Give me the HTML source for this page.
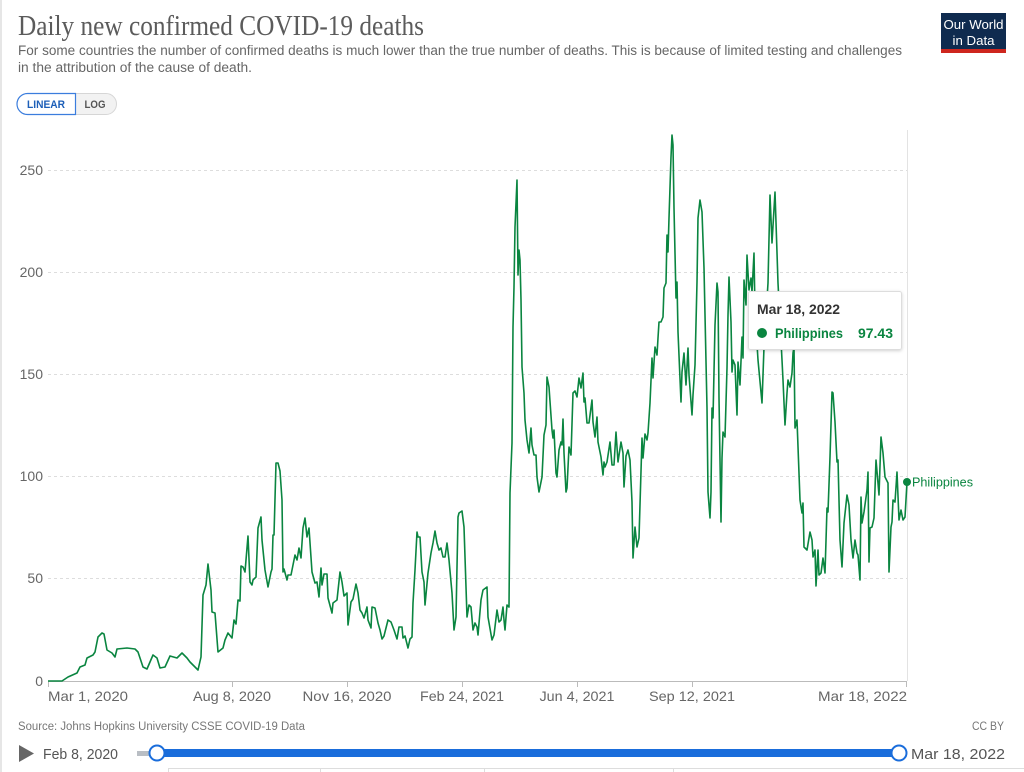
<!DOCTYPE html>
<html>
<head>
<meta charset="utf-8">
<style>
  html, body { margin: 0; padding: 0; background: #ffffff; }
  body { width: 1024px; height: 772px; overflow: hidden; }
  svg { display: block; }
  .sans { font-family: "Liberation Sans", "DejaVu Sans", sans-serif; }
  .serif { font-family: "Liberation Serif", "DejaVu Serif", serif; }
</style>
</head>
<body>
<svg width="1024" height="772" viewBox="0 0 1024 772" xmlns="http://www.w3.org/2000/svg">
  <defs>
    <filter id="sh" x="-10%" y="-20%" width="120%" height="150%">
      <feDropShadow dx="0" dy="1" stdDeviation="1.5" flood-color="#000" flood-opacity="0.18"/>
    </filter>
  </defs>
  <rect x="0" y="0" width="1024" height="772" fill="#ffffff"/>
  <rect x="0" y="0" width="2" height="772" fill="#e6e6e6"/>

  <!-- Title -->
  <text class="serif" x="18" y="35" font-size="28" fill="#5b5b5b" textLength="406" lengthAdjust="spacingAndGlyphs">Daily new confirmed COVID-19 deaths</text>
  <text class="sans" x="18" y="55" font-size="13.5" fill="#666" textLength="884" lengthAdjust="spacingAndGlyphs">For some countries the number of confirmed deaths is much lower than the true number of deaths. This is because of limited testing and challenges</text>
  <text class="sans" x="18" y="72" font-size="13.5" fill="#666" textLength="234" lengthAdjust="spacingAndGlyphs">in the attribution of the cause of death.</text>

  <!-- Logo -->
  <rect x="941" y="13" width="65" height="37" fill="#0f2b4f"/>
  <rect x="941" y="49" width="65" height="4" fill="#ce261e"/>
  <text class="sans" x="973.5" y="29" font-size="12.5" fill="#fff" text-anchor="middle" textLength="60" lengthAdjust="spacingAndGlyphs">Our World</text>
  <text class="sans" x="973.5" y="45" font-size="12.5" fill="#fff" text-anchor="middle" textLength="42" lengthAdjust="spacingAndGlyphs">in Data</text>

  <!-- LINEAR / LOG -->
  <path d="M75.5,93.5 H106 A10.5,10.5 0 0 1 106,114.5 H75.5 Z" fill="#f2f2f2" stroke="#d6d6d6" stroke-width="1"/>
  <path d="M75.5,93.5 H27.5 A10.5,10.5 0 0 0 27.5,114.5 H75.5 Z" fill="#ffffff" stroke="#3b7ddd" stroke-width="1.2"/>
  <text class="sans" x="46" y="108" font-size="11" fill="#1d5fb8" text-anchor="middle" font-weight="bold" textLength="38" lengthAdjust="spacingAndGlyphs">LINEAR</text>
  <text class="sans" x="95" y="108" font-size="11" fill="#555" text-anchor="middle" font-weight="bold" textLength="21" lengthAdjust="spacingAndGlyphs">LOG</text>

  <!-- Gridlines -->
  <g stroke="#dddddd" stroke-width="1" stroke-dasharray="3,3">
    <line x1="48" y1="170.5" x2="907" y2="170.5"/>
    <line x1="48" y1="272.5" x2="907" y2="272.5"/>
    <line x1="48" y1="374.5" x2="907" y2="374.5"/>
    <line x1="48" y1="476.5" x2="907" y2="476.5"/>
    <line x1="48" y1="578.5" x2="907" y2="578.5"/>
  </g>
  <line x1="907.5" y1="130" x2="907.5" y2="681" stroke="#e3e3e3" stroke-width="1"/>

  <!-- Y labels -->
  <g class="sans" font-size="14" fill="#666" text-anchor="end">
    <text x="43" y="175">250</text>
    <text x="43" y="277">200</text>
    <text x="43" y="379">150</text>
    <text x="43" y="481">100</text>
    <text x="43" y="583">50</text>
    <text x="43" y="686">0</text>
  </g>

  <!-- X axis -->
  <line x1="48" y1="681.5" x2="907" y2="681.5" stroke="#bbbbbb" stroke-width="1"/>
  <g stroke="#bbbbbb" stroke-width="1">
    <line x1="48.5" y1="681" x2="48.5" y2="687"/>
    <line x1="232.5" y1="681" x2="232.5" y2="687"/>
    <line x1="347.5" y1="681" x2="347.5" y2="687"/>
    <line x1="462.5" y1="681" x2="462.5" y2="687"/>
    <line x1="577.5" y1="681" x2="577.5" y2="687"/>
    <line x1="692.5" y1="681" x2="692.5" y2="687"/>
    <line x1="906.5" y1="681" x2="906.5" y2="687"/>
  </g>
  <g class="sans" font-size="14" fill="#666">
    <text x="48" y="701" textLength="80" lengthAdjust="spacingAndGlyphs">Mar 1, 2020</text>
    <text x="232" y="701" text-anchor="middle" textLength="78" lengthAdjust="spacingAndGlyphs">Aug 8, 2020</text>
    <text x="347" y="701" text-anchor="middle" textLength="89" lengthAdjust="spacingAndGlyphs">Nov 16, 2020</text>
    <text x="462" y="701" text-anchor="middle" textLength="84" lengthAdjust="spacingAndGlyphs">Feb 24, 2021</text>
    <text x="577" y="701" text-anchor="middle" textLength="75" lengthAdjust="spacingAndGlyphs">Jun 4, 2021</text>
    <text x="692" y="701" text-anchor="middle" textLength="86" lengthAdjust="spacingAndGlyphs">Sep 12, 2021</text>
    <text x="907" y="701" text-anchor="end" textLength="89" lengthAdjust="spacingAndGlyphs">Mar 18, 2022</text>
  </g>

  <!-- Series -->
  <polyline fill="none" stroke="#0a8540" stroke-width="1.6" stroke-linejoin="round" points="
48,681 62,681 68,677 77,673 80,667 85,665 87,658 93,655 95,652 98,637 102,633 104,634 107,650 112,653 115,657 117,649 127,648 135,649 138,652 143,667 147,669 153,655 157,658 160,668 165,667 170,656 177,658 182,653 187,658 190,662 198,670 201,657 203,595 206,585 208,564 211,590 212,612 215,613 218,652 223,648 225,640 228,633 232,638 234,620 236,624 238,600 240,601 241,566 243,567 245,572 248,536 250,582 252,585 253,580 256,577 258,528 261,517 262,540 265,570 268,587 271,572 272,569 273,535 274,535 276,463 278,463 280,471 282,500 283,572 284,569 287,580 288,575 291,575 295,555 297,560 299,548 301,558 303,528 305,518 307,537 309,528 312,572 315,583 317,582 319,597 321,568 322,585 324,574 327,574 328,598 332,613 333,603 337,600 340,572 342,582 344,596 347,593 348,625 351,602 353,599 356,584 358,593 360,610 362,613 364,618 367,607 368,620 371,628 372,607 375,608 378,623 380,630 382,639 384,636 388,620 391,622 394,630 397,639 399,627 402,627 403,638 405,636 408,648 410,639 412,637 413,603 415,570 417,532 418,537 420,537 422,572 424,582 425,605 428,573 431,553 433,543 435,531 437,543 439,550 441,548 443,557 445,557 447,543 449,560 452,593 454,630 456,617 458,517 459,513 462,511 464,527 467,617 469,605 471,607 473,630 475,623 477,627 478,635 481,600 483,590 487,587 488,617 492,640 494,635 497,610 499,622 501,620 503,607 504,620 505,630 507,605 509,607 510,493 512,443 513,327 514,287 515,227 517,180 518,275 519,250 520,260 521,300 522,367 524,393 525,420 527,440 529,453 531,428 532,445 534,455 536,455 537,477 539,492 542,477 544,435 546,425 547,377 549,387 552,430 553,438 554,430 556,473 557,477 559,450 561,442 562,445 563,419 564,453 566,492 567,488 569,447 571,455 573,393 575,391 577,397 579,378 581,388 583,373 584,402 585,398 587,423 589,423 592,400 593,422 595,437 597,417 598,442 601,457 603,475 604,462 605,467 607,462 610,442 612,465 614,465 616,432 618,462 621,442 623,453 624,487 626,456 628,450 630,460 632,502 633,558 635,527 637,547 639,538 642,438 643,458 645,434 647,440 648,433 650,403 652,358 653,378 655,347 657,355 658,338 659,322 661,322 663,317 664,288 666,283 667,235 668,252 669,218 671,157 672,135 673,145 674,208 676,298 677,282 678,332 681,402 682,372 684,353 686,385 688,348 689,375 692,415 693,395 695,365 697,282 698,218 700,200 702,212 704,268 707,408 708,492 710,518 711,492 712,408 713,418 715,325 717,283 718,292 719,398 721,522 722,458 723,432 725,437 727,368 728,315 729,277 731,322 732,372 733,360 735,365 737,415 738,362 740,385 742,337 743,358 744,280 746,305 747,255 749,290 751,278 752,292 754,253 755,312 758,360 762,403 764,347 768,283 770,195 772,243 775,192 778,283 782,360 783,380 785,425 787,393 788,380 790,387 792,373 793,353 794,347 795,428 797,420 800,500 802,513 803,503 804,547 807,550 810,532 812,540 813,557 815,550 816,586 818,550 819,575 821,573 823,558 825,573 827,508 828,512 830,457 832,392 833,393 835,422 837,462 838,460 840,540 842,567 844,523 847,495 849,505 851,540 853,558 855,540 857,553 858,555 860,580 861,497 862,523 864,512 867,490 868,472 869,562 870,528 872,527 874,518 876,460 878,483 879,495 881,437 883,453 885,477 888,483 889,572 891,527 892,522 893,500 895,502 897,472 899,520 901,510 903,520 905,517 907,482"/>
  <circle cx="907" cy="482" r="4" fill="#0a8540"/>
  <text class="sans" x="912" y="486.5" font-size="13" fill="#0a8540" textLength="61" lengthAdjust="spacingAndGlyphs">Philippines</text>

  <!-- Tooltip -->
  <rect x="748.5" y="291.5" width="153" height="58" rx="2" fill="#ffffff" stroke="#dddddd" stroke-width="1" filter="url(#sh)"/>
  <text class="sans" x="757" y="314" font-size="14" font-weight="bold" fill="#333" textLength="83" lengthAdjust="spacingAndGlyphs">Mar 18, 2022</text>
  <circle cx="762" cy="333" r="5" fill="#0a8540"/>
  <text class="sans" x="775" y="338" font-size="14" font-weight="bold" fill="#0a8540" textLength="68" lengthAdjust="spacingAndGlyphs">Philippines</text>
  <text class="sans" x="893" y="338" font-size="14" font-weight="bold" fill="#0a8540" text-anchor="end" textLength="35" lengthAdjust="spacingAndGlyphs">97.43</text>

  <!-- Source -->
  <text class="sans" x="18" y="730" font-size="11.5" fill="#777" textLength="287" lengthAdjust="spacingAndGlyphs">Source: Johns Hopkins University CSSE COVID-19 Data</text>
  <text class="sans" x="1004" y="730" font-size="11.5" fill="#777" text-anchor="end" textLength="32" lengthAdjust="spacingAndGlyphs">CC BY</text>

  <!-- Timeline -->
  <polygon points="19,745 19,762 34,753.5" fill="#666"/>
  <text class="sans" x="43" y="759" font-size="14.5" fill="#555" textLength="75" lengthAdjust="spacingAndGlyphs">Feb 8, 2020</text>
  <rect x="137" y="751" width="22" height="5" fill="#b9bec4"/>
  <rect x="157" y="749" width="742" height="8" fill="#1a6ddb"/>
  <circle cx="157" cy="753" r="7.5" fill="#ffffff" stroke="#1a6ddb" stroke-width="2"/>
  <circle cx="899" cy="753" r="7.5" fill="#ffffff" stroke="#1a6ddb" stroke-width="2"/>
  <text class="sans" x="1005" y="759" font-size="14.5" fill="#555" text-anchor="end" textLength="94" lengthAdjust="spacingAndGlyphs">Mar 18, 2022</text>

  <!-- Tab row hint -->
  <line x1="168" y1="768.5" x2="1024" y2="768.5" stroke="#dddddd" stroke-width="1"/>
  <g stroke="#dddddd" stroke-width="1">
    <line x1="168.5" y1="768" x2="168.5" y2="772"/>
    <line x1="320.5" y1="768" x2="320.5" y2="772"/>
    <line x1="484.5" y1="768" x2="484.5" y2="772"/>
    <line x1="673.5" y1="768" x2="673.5" y2="772"/>
  </g>
</svg>
</body>
</html>
